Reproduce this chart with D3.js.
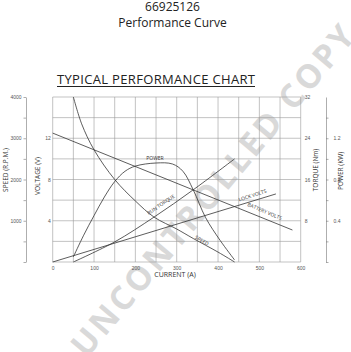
<!DOCTYPE html>
<html>
<head>
<meta charset="utf-8">
<script src="https://cdn.jsdelivr.net/npm/d3@7"></script>
<style>
  body { margin: 0; background: #fff; }
  svg { display: block; font-family: 'Open Sans', 'Noto Sans', sans-serif; }
  .tick text { font-size: 5px; fill: #555; }
</style>
</head>
<body>
<svg id="chart"></svg>
<script>
const width = 351;
const height = 352;

// current (A) vs value
const currentTicks = [0, 100, 200, 300, 400, 500, 600];
const voltTicks = [4, 8, 12];
const torqueTicks = [8, 16, 24, 32];
const speedTicks = [1000, 2000, 3000, 4000];
const powerTicks = [0.4, 0.8, 1.2, 1.6];

const speedPts = [[50, 4000], [70, 3350], [100, 2720], [150, 2000], [200, 1480], [245, 1090],
    [300, 800], [340, 570], [400, 240], [440, 0]];
const powerPts = [[50, 0.05], [75, 0.26], [100, 0.45], [125, 0.63], [150, 0.78], [175, 0.88],
    [200, 0.93], [250, 0.96], [290, 0.95], [315, 0.88], [340, 0.70], [370, 0.43], [405, 0.21], [440, 0.02]];
const torquePts = [[50, 0], [150, 3.9], [245, 8.7], [340, 14.0], [440, 20]];
const batteryPts = [[0, 12.5], [580, 3.1]];
const lockPts = [[0, 0], [540, 6.6]];

const plot = { left: 52.7, right: 300.7, top: 97, bottom: 262 };

const svg = d3.select('#chart')
    .attr('width', width)
    .attr('height', height);

const x = d3.scaleLinear().domain([0, 600]).range([plot.left, plot.right]);
const yVolt = d3.scaleLinear().domain([0, 16]).range([plot.bottom, plot.top]);
const ySpeed = d3.scaleLinear().domain([0, 4000]).range([plot.bottom, plot.top]);
const yTorque = d3.scaleLinear().domain([0, 32]).range([plot.bottom, plot.top]);
const yPower = d3.scaleLinear().domain([0, 1.6]).range([plot.bottom, plot.top]);

// watermark behind everything
svg.append('text')
    .attr('transform', 'translate(212,190) rotate(-50)')
    .attr('text-anchor', 'middle')
    .attr('dominant-baseline', 'central')
    .attr('textLength', 420)
    .style('font-family', 'Open Sans, sans-serif')
    .style('font-weight', 'bold')
    .style('font-size', '33px')
    .style('fill', '#d9d9d9')
    .text('UNCONTROLLED COPY');

// titles
svg.append('text').attr('x', 172.5).attr('y', 10.5).attr('text-anchor', 'middle')
    .style('font-size', '12px').style('fill', '#222').text('66925126');
svg.append('text').attr('x', 172.5).attr('y', 27).attr('text-anchor', 'middle')
    .style('font-size', '12px').style('fill', '#222').text('Performance Curve');
svg.append('text').attr('x', 156).attr('y', 84).attr('text-anchor', 'middle')
    .attr('textLength', 198)
    .style('font-size', '13px').style('fill', '#222').text('TYPICAL PERFORMANCE CHART');
svg.append('line').attr('x1', 57).attr('x2', 255).attr('y1', 86.5).attr('y2', 86.5)
    .attr('stroke', '#222').attr('stroke-width', 1);

// grid
const grid = svg.append('g').attr('stroke', '#9a9a9a').attr('stroke-width', 0.6);
grid.selectAll('.vg').data(d3.range(0, 601, 50)).enter().append('line')
    .attr('x1', d => x(d)).attr('x2', d => x(d))
    .attr('y1', plot.top).attr('y2', plot.bottom);
grid.selectAll('.hg').data(d3.range(0, 17, 2)).enter().append('line')
    .attr('x1', plot.left).attr('x2', plot.right)
    .attr('y1', d => yVolt(d)).attr('y2', d => yVolt(d));

// axes
const xAxis = svg.append('g')
    .attr('transform', `translate(0,${plot.bottom})`)
    .call(d3.axisBottom(x).tickValues(currentTicks).tickSize(0).tickPadding(4));
xAxis.select('.domain').remove();

const vAxis = svg.append('g')
    .attr('transform', `translate(${plot.left},0)`)
    .call(d3.axisLeft(yVolt).tickValues(voltTicks).tickSize(0).tickPadding(2));
vAxis.select('.domain').remove();

const tAxis = svg.append('g')
    .attr('transform', `translate(${plot.right},0)`)
    .call(d3.axisRight(yTorque).tickValues(torqueTicks).tickSize(0).tickPadding(4));
tAxis.select('.domain').remove();

svg.append('g')
    .attr('transform', 'translate(26,0)')
    .call(d3.axisLeft(ySpeed).tickValues(d3.range(0, 4001, 500)).tickSize(2.5).tickSizeOuter(0)
        .tickPadding(2).tickFormat(d => speedTicks.includes(d) ? d : ''));

svg.append('g')
    .attr('transform', 'translate(326,0)')
    .call(d3.axisRight(yPower).tickValues(d3.range(0, 8).map(i => i * 0.2)).tickSize(2.5).tickSizeOuter(0)
        .tickPadding(5).tickFormat(d => powerTicks.some(p => Math.abs(p - d) < 1e-6) ? d3.format('.1f')(d) : ''));

svg.selectAll('.domain, .tick line').attr('stroke', '#777').attr('stroke-width', 0.6);

// axis titles
const axisTitle = (tx, ty, rot, label, size) => svg.append('text')
    .attr('transform', `translate(${tx},${ty}) rotate(${rot})`)
    .attr('text-anchor', 'middle')
    .style('font-size', size + 'px').style('fill', '#333')
    .text(label);
axisTitle(8, 170, -90, 'SPEED (R.P.M.)', 6.5);
axisTitle(40, 176, -90, 'VOLTAGE (V)', 6.5);
axisTitle(318, 170, -90, 'TORQUE (Nm)', 6.5);
axisTitle(343, 171, -90, 'POWER (KW)', 6.5);
axisTitle(175, 277, 0, 'CURRENT (A)', 7);

// curves
const drawCurve = (pts, yScale, curve) => svg.append('path')
    .datum(pts)
    .attr('fill', 'none')
    .attr('stroke', '#333')
    .attr('stroke-width', 0.8)
    .attr('d', d3.line().x(d => x(d[0])).y(d => yScale(d[1])).curve(curve));

drawCurve(speedPts, ySpeed, d3.curveCatmullRom.alpha(0.5));
drawCurve(powerPts, yPower, d3.curveCatmullRom.alpha(0.5));
drawCurve(torquePts, yTorque, d3.curveCatmullRom.alpha(0.5));
drawCurve(batteryPts, yVolt, d3.curveLinear);
drawCurve(lockPts, yVolt, d3.curveLinear);

// curve labels
const curveLabel = (tx, ty, rot, label) => svg.append('text')
    .attr('transform', `translate(${tx},${ty}) rotate(${rot})`)
    .attr('text-anchor', 'middle')
    .style('font-size', '5px').style('fill', '#333')
    .text(label);
curveLabel(155, 159.5, 0, 'POWER');
curveLabel(162, 206, -34, 'RUN TORQUE');
curveLabel(201, 242, 30, 'SPEED');
curveLabel(253, 197, -18, 'LOCK VOLTS');
curveLabel(264, 213, 23, 'BATTERY VOLTS');
</script>
</body>
</html>
